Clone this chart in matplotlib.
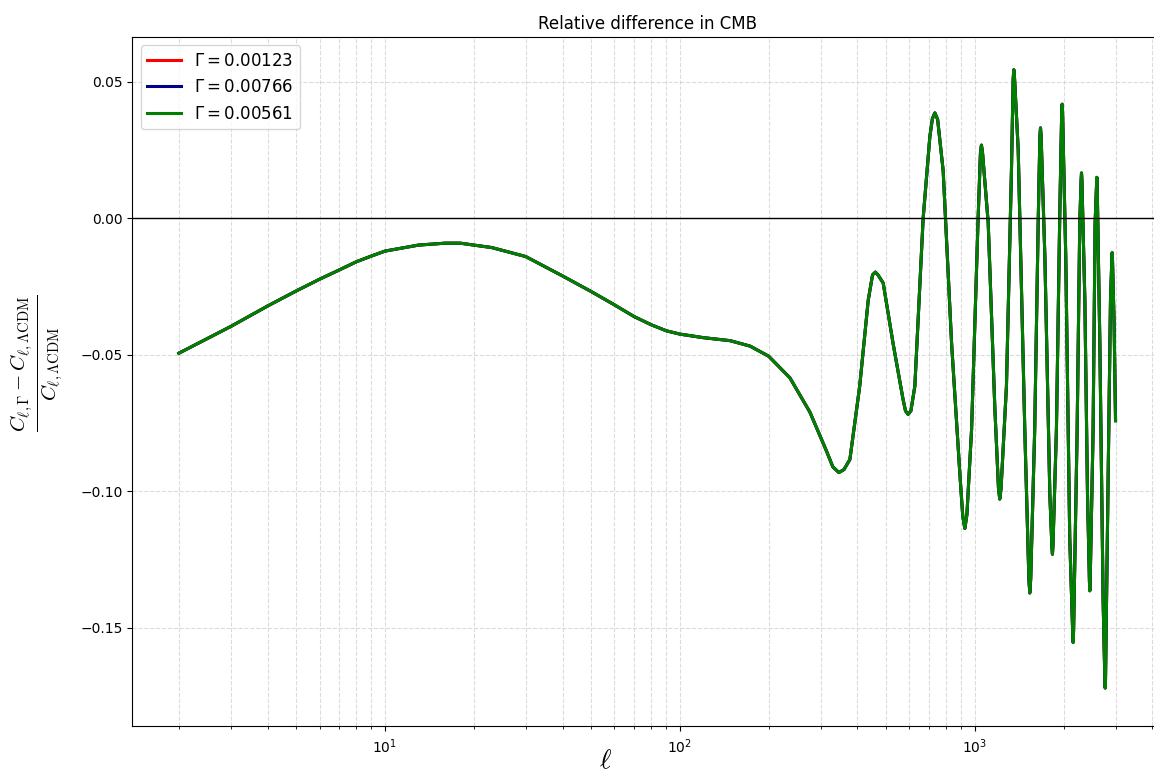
import numpy as np
import matplotlib.pyplot as plt

# multipoles and relative difference
ell = [2, 3, 4, 5, 6, 7, 8, 9, 10, 13, 16, 18, 20, 23, 30, 40, 50, 60, 70, 80, 90,
       100, 120, 148, 173, 200, 236, 276, 314, 330, 346, 360, 377, 407, 435, 450, 460,
       470, 489, 528, 571, 582, 594, 607, 626, 668, 704, 718, 732, 748, 781, 834, 889,
       910, 925, 940, 975, 1026, 1045, 1053, 1062, 1110, 1169, 1203, 1215, 1227, 1280,
       1331, 1349, 1356, 1364, 1403, 1477, 1525, 1536, 1547, 1596, 1640, 1662, 1670,
       1678, 1728, 1796, 1825, 1833, 1841, 1891, 1941, 1970, 1977, 1984, 2034, 2098,
       2146, 2154, 2162, 2223, 2269, 2293, 2300, 2307, 2361, 2410, 2447, 2454, 2461,
       2518, 2558, 2587, 2593, 2599, 2654, 2723, 2760, 2767, 2774, 2833, 2884, 2915,
       2922, 2929, 2966, 3000]
diff = [-0.0494, -0.0396, -0.0321, -0.0266, -0.0223, -0.0189, -0.0159, -0.0138, -0.0120,
        -0.0098, -0.0091, -0.0091, -0.0098, -0.0107, -0.0140, -0.0211, -0.0268, -0.0317,
        -0.0360, -0.0390, -0.0412, -0.0424, -0.0437, -0.0448, -0.0468, -0.0505, -0.0584,
        -0.0710, -0.0852, -0.0910, -0.0931, -0.0920, -0.0883, -0.0615, -0.0300, -0.0207,
        -0.0197, -0.0208, -0.0237, -0.0457, -0.0663, -0.0705, -0.0718, -0.0705, -0.0615,
        0.0000, 0.0300, 0.0365, 0.0386, 0.0362, 0.0174, -0.0457, -0.0930, -0.1090,
        -0.1136, -0.1085, -0.0773, 0.0000, 0.0240, 0.0268, 0.0240, -0.0016, -0.0694,
        -0.0990, -0.1028, -0.0990, -0.0615, 0.0174, 0.0510, 0.0544, 0.0510, 0.0252,
        -0.0773, -0.1320, -0.1372, -0.1320, -0.0773, -0.0016, 0.0300, 0.0331, 0.0300,
        -0.0142, -0.1010, -0.1200, -0.1230, -0.1195, -0.0773, 0.0016, 0.0385, 0.0418,
        0.0385, -0.0142, -0.1170, -0.1510, -0.1553, -0.1510, -0.0773, -0.0016, 0.0140,
        0.0166, 0.0140, -0.0300, -0.1010, -0.1330, -0.1364, -0.1330, -0.0773, -0.0016,
        0.0125, 0.0150, 0.0125, -0.0457, -0.1400, -0.1690, -0.1720, -0.1690, -0.0930,
        -0.0300, -0.0150, -0.0126, -0.0150, -0.0379, -0.0741]

gammas = ["0.00123", "0.00766", "0.00561"]
colores = ["red", "darkblue", "green"]

fig = plt.figure(figsize=(11.54, 7.74), dpi=100)
ax = fig.add_axes([0.1146, 0.0624, 0.8928, 0.8898])

for g, c in zip(gammas, colores):
    ax.plot(ell, diff, color=c, lw=2.2, label=r"$\Gamma = $" + g)

ax.axhline(0, color='k', lw=1)
ax.set_xscale('log')
ax.set_xlim(1.39, 4330)
ax.set_ylim(-0.1858, 0.0664)
ax.set_yticks([-0.15, -0.10, -0.05, 0.00, 0.05])
ax.tick_params(axis='x', pad=5)
ax.grid(True, which='both', ls='--', color='#cccccc', alpha=0.7)
ax.set_title("Relative difference in CMB", fontsize=12)
ax.set_xlabel(r"$\ell$", fontsize=20, math_fontfamily='cm')
ax.xaxis.set_label_coords(0.459, -0.030)
ax.set_ylabel(r"$\frac{C_{\ell,\Gamma} - C_{\ell,\Lambda\mathrm{CDM}}}{C_{\ell,\Lambda\mathrm{CDM}}}$",
              fontsize=21.5, math_fontfamily='cm')
ax.yaxis.set_label_coords(-0.065, 0.527)
ax.legend(loc='upper left', fontsize=12)

plt.savefig("out.png", dpi=100)
